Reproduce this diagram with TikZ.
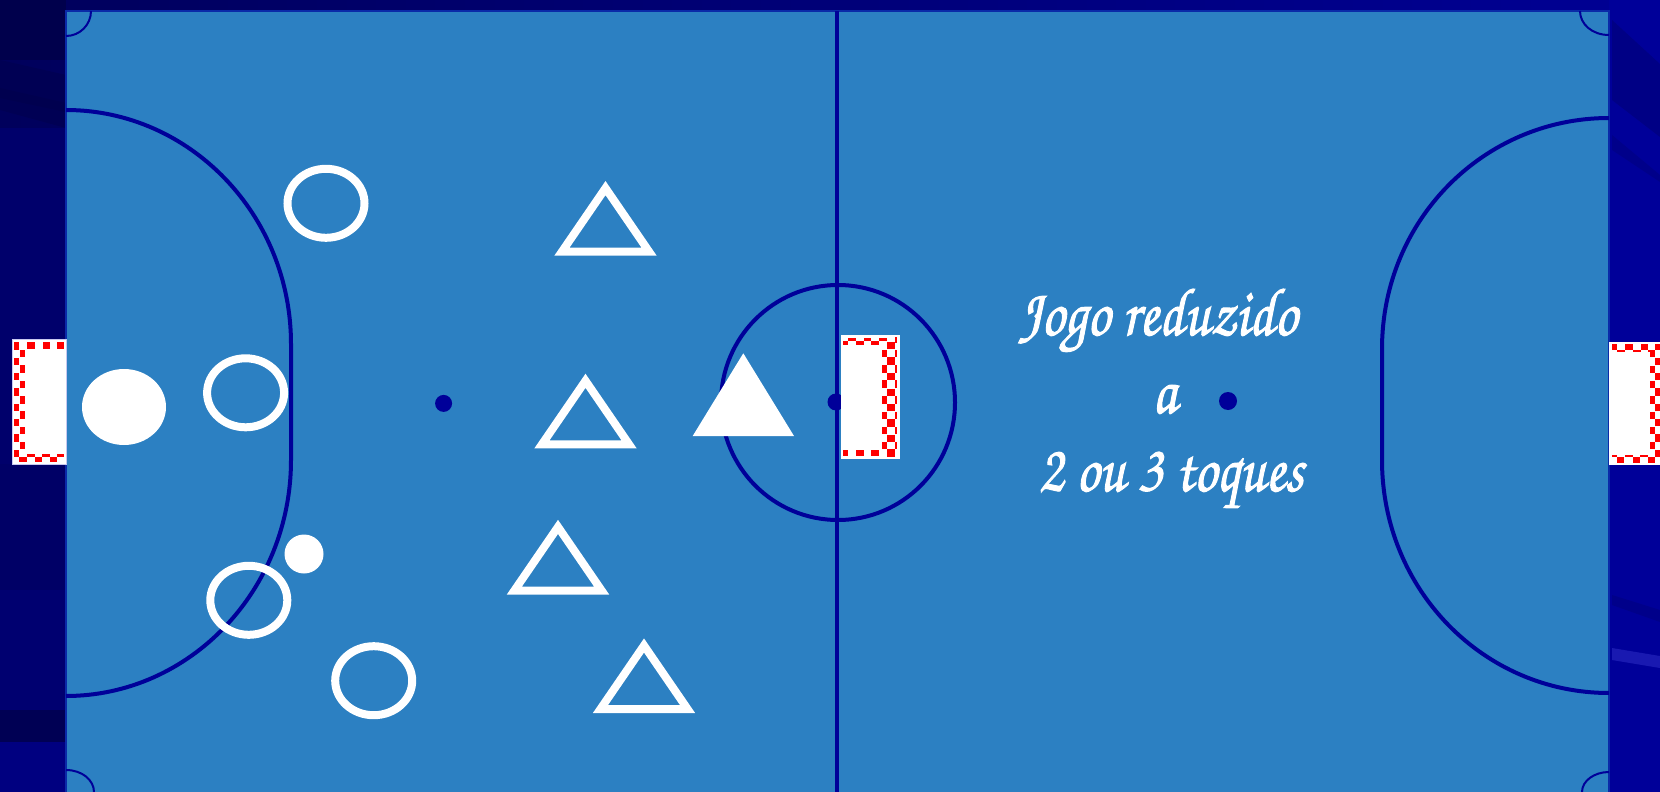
\documentclass[tikz,border=0pt]{standalone}
\usepackage[T1]{fontenc}
\usepackage{graphicx}
\definecolor{field}{HTML}{2C80C2}
\definecolor{linecol}{HTML}{000099}
\definecolor{edgecol}{HTML}{0A2AA8}
\definecolor{goalred}{HTML}{FF0000}
\definecolor{goaledge}{HTML}{C8C8F0}
\newcommand{\brush}[1]{\special{pdf:code q 1 1 1 RG 0.55 w 2 Tr}\scalebox{.84}[1]{#1}\special{pdf:code Q}}
\tikzset{
  courtline/.style={draw=linecol,line width=2pt,fill=none},
  thinline/.style={draw=linecol,line width=1pt,fill=none},
  spot/.style={fill=linecol,draw=none},
  openshape/.style={draw=white,line width=4pt,fill=none},
  opentri/.style={draw=white,line width=4pt,fill=none,miter limit=10,line join=miter},
  solidshape/.style={fill=white,draw=none},
  goalbox/.style={fill=white,draw=goaledge,line width=.5pt},
  check/.style={fill=goalred,draw=none},
  script/.style={text=white,anchor=base west,inner sep=0pt,font=\fontsize{34}{34}\usefont{T1}{pzc}{mb}{it}},
}
\newcommand{\opentriangle}[2]{\draw[opentri] (#1,#2+7.1) -- (#1+43.6,#2+70.7) -- (#1-43.6,#2+70.7) -- cycle;}
\newcommand{\chk}[4]{\fill[check] (#1,#2) rectangle (#3,#4);}
\begin{document}
\begin{tikzpicture}[x=0.5pt,y=-0.5pt]
\useasboundingbox (0,0) rectangle (1660,792);
% background
\shade[left color=blue!36!black,right color=blue!58!black] (0,0) rectangle (1660,792);
\fill[blue!30!black] (0,0) rectangle (66,60);
\fill[blue!33!black] (0,60) -- (66,75) -- (66,128) -- (0,110) -- cycle;
\fill[blue!31!black] (0,88) -- (66,103) -- (66,112) -- (0,98) -- cycle;
\fill[blue!42!black] (0,128) rectangle (66,792);
\fill[blue!40!black] (0,464) rectangle (66,792);
\fill[blue!44!black] (0,590) rectangle (66,792);
\fill[blue!33!black] (0,710) rectangle (66,742);
\fill[blue!50!black] (0,742) rectangle (66,792);
\fill[blue!60!black] (1609,0) rectangle (1660,792);
\fill[blue!52!black] (1612,20) -- (1660,64) -- (1660,137) -- (1612,100) -- cycle;
\fill[blue!54!black] (1612,135) -- (1660,175) -- (1660,182) -- (1612,150) -- cycle;
\fill[blue!54!black] (1612,605) -- (1660,622) -- (1660,610) -- (1612,595) -- cycle;
\fill[blue!66!black!90!white] (1612,648) -- (1660,656) -- (1660,668) -- (1612,660) -- cycle;
% court
\fill[field,draw=edgecol,line width=1pt] (66,11) rectangle (1609,800);
% court lines
\draw[courtline] (66,110) .. controls (190,110) and (291,215) .. (291,344) -- (291,460) .. controls (291,590) and (190,696) .. (66,696);
\draw[courtline] (1609,118) .. controls (1484,118) and (1382,220) .. (1382,349) -- (1382,460) .. controls (1382,590) and (1484,693) .. (1609,693);
\draw[courtline] (837,11) -- (837,792);
\draw[courtline] (838,402.5) circle [x radius=117,y radius=117.5];
\draw[thinline] (91,11) arc[start angle=0,end angle=90,radius=25];
\draw[thinline] (1580,11) .. controls (1580,24) and (1592,35) .. (1609,35);
\draw[thinline] (66,770) .. controls (82,770) and (94,780) .. (94,792);
\draw[thinline] (1582,792) .. controls (1582,781) and (1594,772) .. (1609,772);
\fill[spot] (443.6,403.4) circle [radius=8.5];
\fill[spot] (836,402) circle [radius=8.5];
\fill[spot] (1228,401) circle [radius=9];
% left goal
\fill[goalbox] (12,339) rectangle (66,464);
\foreach \y in {346,361.3,376.7,392,407.3,422.7,438,453.3}{\chk{14}{\y-3.6}{19}{\y+3.6}}
\foreach \y in {353.3,369,384.3,400,415,430.3,445.7}{\chk{19.5}{\y-3.6}{24.5}{\y+3.6}}
\foreach \a/\b in {27/35,43/50,57/64}{\chk{\a}{342}{\b}{348.5}}
\foreach \a/\b in {19/27,35/42,50/57}{\chk{\a}{456.5}{\b}{462}}
\foreach \a/\b in {27/35,42/50,57/64}{\chk{\a}{454}{\b}{456.5}}
% centre goal
\fill[solidshape] (840.7,335) rectangle (899.7,459);
\foreach \y in {353.3,369,384,400,415.7,430.7,445.7}{\chk{881.7}{\y-3.6}{887.3}{\y+3.6}\chk{895}{\y-3.6}{897}{\y+3.6}}
\chk{895}{336.5}{897}{342.5}
\foreach \y in {345.7,361,376.7,392.3,407.7,423,438.3,453}{\chk{887.3}{\y-3.6}{894.7}{\y+3.6}}
\foreach \a/\b in {848/855.7,863.7/871.3,879.3/886.7}{\chk{\a}{337.7}{\b}{341.3}}
\foreach \a/\b in {843.3/848.3,856/863.7,871.3/879}{\chk{\a}{341.3}{\b}{345}}
\foreach \a/\b in {843.3/848.3,856/863.7,871.3/879}{\chk{\a}{450}{\b}{456}}
% right goal
\fill[solidshape] (1609,341.7) rectangle (1660,465.3);
\foreach \a/\b in {1611.7/1616.7,1625/1632.7,1640.7/1648.3,1655/1660}{\chk{\a}{344}{\b}{350}}
\foreach \a/\b in {1616.7/1625,1632.7/1640.7,1648.3/1655}{\chk{\a}{350}{\b}{351.7}}
\foreach \y in {353.3,369.3,384.3,400,415.7,430.7,445.7}{\chk{1650}{\y-3.6}{1655}{\y+3.6}}
\foreach \y in {361.3,376.7,392,407.3,422.7,438,453.3}{\chk{1655}{\y-3.6}{1660}{\y+3.6}}
\foreach \a/\b in {1617.3/1624.3,1632.7/1640.3,1648.3/1655}{\chk{\a}{457.3}{\b}{462.7}}
\foreach \a/\b in {1611.7/1617.3,1625/1632.7,1640.3/1648.3}{\chk{\a}{455.3}{\b}{457.3}}
% players
\draw[openshape] (326,203.3) circle [x radius=38.5,y radius=34.5];
\draw[openshape] (245.6,392.8) circle [x radius=38.5,y radius=34.5];
\draw[openshape] (248.8,600.3) circle [x radius=38.5,y radius=34.5];
\draw[openshape] (373.7,680.7) circle [x radius=38.5,y radius=34.5];
\fill[solidshape] (124,407) circle [x radius=42,y radius=38];
\fill[solidshape] (304,554) circle [radius=19.5];
\opentriangle{605.5}{181}
\opentriangle{585.5}{373.7}
\opentriangle{558}{519.8}
\opentriangle{644}{638.4}
\fill[solidshape] (743.3,353.3) -- (794,436) -- (692.7,436) -- cycle;
% text
\node[script] (t1) at (1018,335) {\brush{Jogo reduzido}};
\node[script] (t2) at (1152,413) {\brush{a}};
\node[script] (t3) at (1038,491) {\brush{2 ou 3 toques}};
\end{tikzpicture}
\end{document}
